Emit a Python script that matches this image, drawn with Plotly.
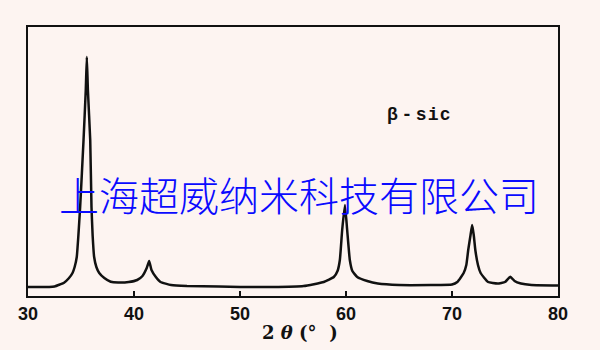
import plotly.graph_objects as go

# 2-theta (degrees) and relative intensity (arbitrary units)
two_theta = [30.0, 31.0, 32.0, 32.5, 33.0, 33.4, 33.85, 34.2, 34.4, 34.6, 34.75, 34.92, 35.24, 35.45, 35.55,
             35.65, 35.87, 35.99, 36.1, 36.24, 36.45, 36.72, 37.2, 37.8, 38.5, 39.5, 40.3, 40.8, 41.2, 41.43,
             41.65, 42.06, 42.5, 43.5, 45.0, 48.0, 50.0, 53.0, 56.0, 57.9, 58.85, 59.2, 59.42, 59.64, 59.9,
             60.11, 60.36, 60.6, 61.06, 62.0, 63.0, 65.0, 68.0, 70.0, 70.5, 71.1, 71.35, 71.53, 71.75, 71.9,
             72.05, 72.2, 72.45, 72.7, 73.4, 74.3, 75.0, 75.5, 75.9, 76.5, 77.5, 80.0]
intensity = [9, 9, 9, 9.5, 11.5, 13.3, 17.7, 23, 29, 39, 60, 89, 156, 206, 239,
             206, 156, 89, 60, 39, 29, 23, 18, 14.3, 13.5, 14, 16, 20, 28, 35,
             26, 19, 14, 11, 10, 9.5, 9, 9, 10, 14, 19, 25, 36, 66, 91,
             66, 36, 25, 19, 15, 12.5, 11, 11, 11.5, 14, 23, 31, 46, 61, 71,
             61, 46, 31, 23, 14, 12.5, 14, 19.3, 15, 12.5, 11, 10.5]

x_ticks = [30, 40, 50, 60, 70, 80]
x_tick_labels = ["30", "40", "50", "60", "70", "80"]

phase_label = "β\u2009-\u2009s\u200ai\u200ac"
watermark = "上海超威纳米科技有限公司"
x_title = "2 <i>θ</i> (°  )"

bg = "#fdf4f1"

fig = go.Figure()
fig.add_trace(go.Scatter(x=two_theta, y=intensity, mode="lines",
                         line=dict(color="#111111", width=2.5, shape="spline", smoothing=0.4),
                         showlegend=False, hoverinfo="skip"))

fig.update_layout(
    width=600, height=350,
    margin=dict(l=28, r=42, t=27, b=54),
    paper_bgcolor=bg, plot_bgcolor=bg,
    xaxis=dict(range=[30, 80], tickvals=x_ticks, ticktext=x_tick_labels,
               showgrid=False, zeroline=False, showline=True, linecolor="#111111",
               linewidth=2, mirror=True, ticks="inside", ticklen=5, tickwidth=1.5,
               tickcolor="#111111",
               tickfont=dict(family="Liberation Sans", size=18, color="#111111", weight="bold")),
    yaxis=dict(range=[0, 269], showticklabels=False, showgrid=False, zeroline=False,
               showline=True, linecolor="#111111", linewidth=2, mirror=True, ticks=""),
)

fig.add_annotation(x=0.513, y=-0.1375, xref="paper", yref="paper", text=x_title,
                   showarrow=False, xanchor="center", yanchor="middle",
                   font=dict(family="DejaVu Serif", size=18, color="#111111", weight="bold"))

fig.add_annotation(x=66.8, y=0.673, xref="x", yref="paper", text=phase_label,
                   showarrow=False, xanchor="center", yanchor="middle",
                   font=dict(family="Liberation Mono", size=18, color="#111111", weight="bold"))

fig.add_annotation(x=0.511, y=0.38, xref="paper", yref="paper", text=watermark,
                   showarrow=False, xanchor="center", yanchor="middle",
                   font=dict(family="Noto Sans CJK SC", size=40, color="#0a0aff", weight=300))

fig.write_html("out.html")
